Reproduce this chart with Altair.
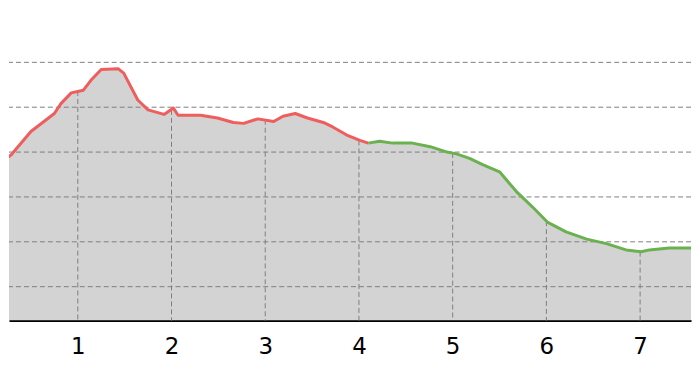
import altair as alt
import pandas as pd

# distance (km) and elevation (m)
dist = [0.18, 0.29, 0.50, 0.75, 0.82, 0.93, 1.06, 1.14, 1.25, 1.43, 1.49, 1.64, 1.75, 1.92,
        2.02, 2.07, 2.31, 2.49, 2.66, 2.77, 2.92, 3.09, 3.19, 3.32, 3.45, 3.62, 3.72, 3.87,
        4.01, 4.10, 4.22, 4.36, 4.57, 4.76, 4.94, 5.04, 5.18, 5.32, 5.50, 5.68, 5.85, 6.01,
        6.21, 6.43, 6.64, 6.85, 7.01, 7.10, 7.31, 7.63]
elev = [338, 347, 373, 393, 404, 416, 419, 430, 442, 443, 438, 408, 397, 392,
        399, 391, 391, 388, 383, 382, 387, 384, 390, 393, 388, 383, 378, 369,
        363, 360, 362, 360, 360, 356, 350, 348, 343, 336, 328, 306, 289, 272,
        261, 253, 248, 241, 239, 241, 243, 243]
split_km = 4.10  # colour changes from red to green here

tick_km = [1, 2, 3, 4, 5, 6, 7]
tick_elev = [418, 397, 386, 363, 349, 273, 239]
grid_elev = [200, 250, 300, 350, 400, 450]

Y_MIN, Y_MAX = 162.2, 510
X_MIN, X_MAX = 0.266, 7.543

prof = pd.DataFrame({"km": dist, "elev": elev})
rows = []
for d, e in zip(dist, elev):
    if d <= split_km:
        rows.append({"km": d, "elev": e, "seg": "a"})
    if d >= split_km:
        rows.append({"km": d, "elev": e, "seg": "b"})
line_df = pd.DataFrame(rows)
ticks_df = pd.DataFrame({"km": tick_km, "elev": tick_elev})
grid_df = pd.DataFrame({"elev": grid_elev})

xs = alt.Scale(domain=[X_MIN, X_MAX], nice=False, zero=False)
ys = alt.Scale(domain=[Y_MIN, Y_MAX], nice=False, zero=False)

area = alt.Chart(prof).mark_area(color="#d3d3d3", clip=True).encode(
    x=alt.X("km:Q", scale=xs, axis=alt.Axis(values=tick_km, format="d", grid=False, ticks=False,
            domainColor="black", domainWidth=2, labelFontSize=23, labelColor="black",
            labelFont="DejaVu Sans", labelPadding=15, title=None, labelFlush=False)),
    y=alt.Y("elev:Q", scale=ys, axis=None),
    y2=alt.datum(Y_MIN),
)

vrules = alt.Chart(ticks_df).mark_rule(color="#808080", strokeDash=[5, 3], strokeWidth=1).encode(
    x=alt.X("km:Q", scale=xs),
    y=alt.Y("elev:Q", scale=ys),
    y2=alt.datum(Y_MIN),
)

hrules = alt.Chart(grid_df).mark_rule(color="#808080", strokeDash=[5, 3], strokeWidth=1).encode(
    y=alt.Y("elev:Q", scale=ys),
)

line = alt.Chart(line_df).mark_line(strokeWidth=3, clip=True, strokeJoin="round").encode(
    x=alt.X("km:Q", scale=xs),
    y=alt.Y("elev:Q", scale=ys),
    color=alt.Color("seg:N", scale=alt.Scale(domain=["a", "b"], range=["#ef5d5d", "#6ab150"]), legend=None),
    detail="seg:N",
)

chart = alt.layer(area, vrules, hrules, line).properties(
    width=684, height=313, padding={"left": 0, "top": 0, "right": 0, "bottom": 0}
).configure_view(stroke=None)

chart.save("out.html", embed_options={"renderer": "svg", "actions": False})
